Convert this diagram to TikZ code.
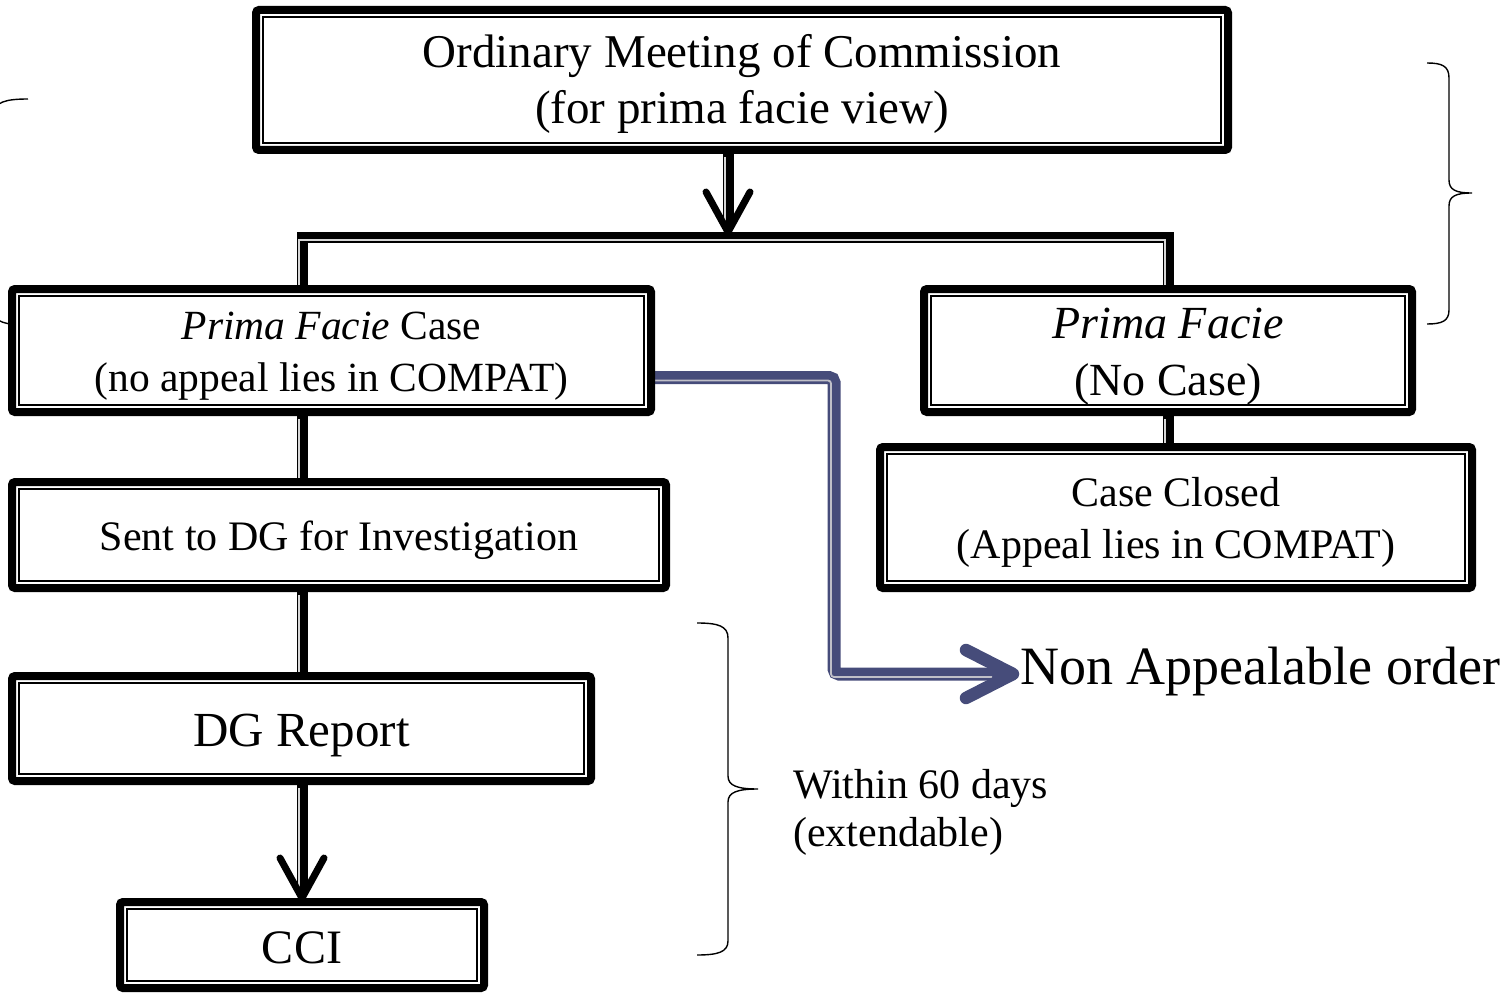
\documentclass[tikz,border=0pt]{standalone}
\usepackage{fontspec}
\setmainfont{Liberation Serif}
\usetikzlibrary{calc,backgrounds}
\definecolor{slate}{RGB}{70,76,122}
\definecolor{paleline}{RGB}{192,192,200}
\definecolor{gapgray}{RGB}{215,215,215}
\begin{document}
\begin{tikzpicture}[x=1pt,y=-1pt,
 box/.style={draw=black, line width=8pt, rounded corners=3pt, inner sep=0pt, align=center, fill=white,
   path picture={\draw[line width=2pt, sharp corners] ([shift={(7pt,7pt)}]path picture bounding box.south west) rectangle ([shift={(-7pt,-7pt)}]path picture bounding box.north east);}},
 conn/.style={draw=black, line width=11pt},
 connin/.style={draw=gapgray, line width=2pt},
 vhead/.style={draw=black, line width=7pt, line cap=round, line join=round},
 bconn/.style={draw=slate, line width=13pt, rounded corners=5pt},
 bconnin/.style={draw=paleline, line width=1.8pt, rounded corners=3pt},
 bhead/.style={draw=slate, line width=12.5pt, line cap=round, line join=round},
 bracestyle/.style={draw=black, line width=1.4pt},
 plain/.style={inner sep=0pt, anchor=west},
]
\useasboundingbox (0,0) rectangle (1505,995);
\clip (0,0) rectangle (1505,995);

% boxes
\node[box, minimum width=972pt, minimum height=140pt, text height=100pt, text depth=13pt, font=\fontsize{47}{56}\selectfont] (A) at (742,80)
  {Ordinary Meeting of Commission\\(for prima facie view)};
\node[box, minimum width=639pt, minimum height=123pt, text height=100pt, text depth=17.6pt, font=\fontsize{41.5}{52}\selectfont] (B) at (331.5,350.5)
  {\textit{Prima Facie} Case\\(no appeal lies in COMPAT)};
\node[box, minimum width=488pt, minimum height=123pt, text height=100pt, text depth=10.6pt, font=\fontsize{46}{57}\selectfont] (C) at (1168,350.5)
  {\textit{Prima Facie}\\(No Case)};
\node[box, minimum width=592pt, minimum height=141pt, text height=100pt, text depth=17.2pt, font=\fontsize{42}{52}\selectfont] (D) at (1176,517.5)
  {Case Closed\\(Appeal lies in COMPAT)};
\node[box, minimum width=654pt, minimum height=106pt, text height=40pt, text depth=8.3pt, font=\fontsize{42}{52}\selectfont] (E) at (339,535)
  {Sent to DG for Investigation};
\node[box, minimum width=579pt, minimum height=105pt, text height=40pt, text depth=4.6pt, font=\fontsize{49}{56}\selectfont] (F) at (301.5,728.5)
  {DG Report};
\node[box, minimum width=364pt, minimum height=86pt, text height=40pt, text depth=2.4pt, font=\fontsize{48}{56}\selectfont] (G) at (302,945)
  {CCI};

% free texts
\node[plain, font=\fontsize{54}{60}\selectfont] (N) at (1020,672) {Non Appealable order};
\node[plain, align=left, font=\fontsize{42}{48}\selectfont] (W) at (793,812) {Within 60 days\\(extendable)};

% coordinates
\coordinate (tipT) at (728,232);
\coordinate (barL) at (302,237.5);
\coordinate (barR) at (1168,237.5);
\coordinate (tipC) at (barL |- G.north);
\coordinate (bend) at (834,674);
\coordinate (tipB) at (1013,674);

\begin{pgfonlayer}{background}
% top arrow and branch bar
\draw[conn] (tipT |- A.south) -- ([yshift=4pt]tipT);
\draw[conn] (barL |- B.north) -- (barL) -- (barR) -- (barR |- C.north);
\draw[conn] (barR |- C.south) -- (barR |- D.north);
\draw[conn] (barL |- B.south) -- (barL |- E.north);
\draw[conn] (barL |- E.south) -- (barL |- F.north);
\draw[conn] (barL |- F.south) -- ([yshift=6pt]tipC);
\begin{scope}[transform canvas={shift={(-3pt,-3pt)}}]
\draw[connin] (tipT |- A.south) -- ([yshift=4pt]tipT);
\draw[connin] (barL |- B.north) -- (barL) -- (barR) -- (barR |- C.north);
\draw[connin] (barR |- C.south) -- (barR |- D.north);
\draw[connin] (barL |- B.south) -- (barL |- E.north);
\draw[connin] (barL |- E.south) -- (barL |- F.north);
\draw[connin] (barL |- F.south) -- ([yshift=12pt]tipC);
\end{scope}
% left partial brace
\draw[bracestyle] (28,99) .. controls (6,99) and (-6,102) .. (-6,114) -- (-6,196)
  .. controls (-6,206) and (-14,212) .. (-30,212) .. controls (-14,212) and (-6,218) .. (-6,228)
  -- (-6,312) .. controls (-6,322) and (6,325) .. (28,325);
% blue connector
\draw[bconn] ([yshift=-27pt]B.east) -| (bend) -- ([xshift=-8pt]tipB);
\begin{scope}[transform canvas={shift={(-3pt,-3pt)}}]
\draw[bconnin] ([yshift=-27pt]B.east) -| (bend) -- ([xshift=-18pt]tipB);
\end{scope}
\end{pgfonlayer}

% arrow heads
\draw[vhead] ($(tipT)+(-22,-40)$) -- (tipT) -- ($(tipT)+(22,-40)$);
\draw[vhead] ($(tipC)+(-22,-40)$) -- (tipC) -- ($(tipC)+(22,-40)$);
\draw[bhead] ($(tipB)+(-47,-24)$) -- (tipB) -- ($(tipB)+(-47,24)$);

% braces
\draw[bracestyle] (1427,63) .. controls (1442,63) and (1449,66) .. (1449,78) -- (1449,180)
  .. controls (1449,190) and (1456,193) .. (1472,193) .. controls (1456,193) and (1449,196) .. (1449,206)
  -- (1449,310) .. controls (1449,321) and (1442,324) .. (1427,324);
\draw[bracestyle] (697,623) .. controls (718,623) and (728,626) .. (728,638) -- (728,776)
  .. controls (728,786) and (738,789) .. (758,789) .. controls (738,789) and (728,792) .. (728,802)
  -- (728,941) .. controls (728,952) and (718,955) .. (697,955);
\end{tikzpicture}
\end{document}
